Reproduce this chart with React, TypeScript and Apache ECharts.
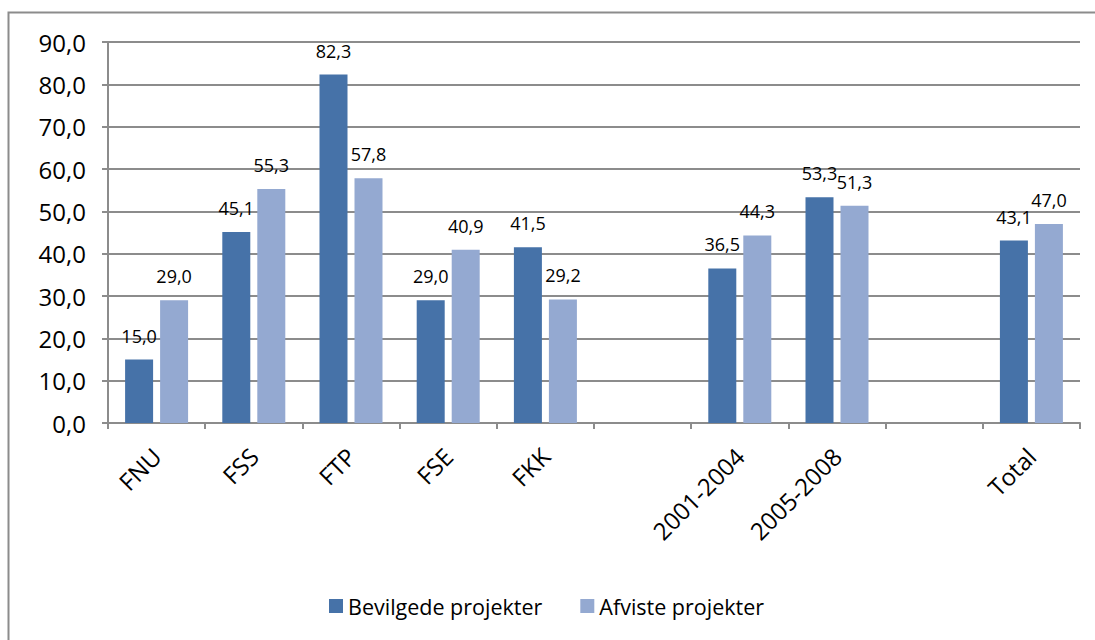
import React, { useEffect, useRef } from "react";
import * as echarts from "echarts";

const categories = ["FNU", "FSS", "FTP", "FSE", "FKK", "", "2001-2004", "2005-2008", "", "Total"];
const bevilgede = [15.0, 45.1, 82.3, 29.0, 41.5, null, 36.5, 53.3, null, 43.1];
const afviste = [29.0, 55.3, 57.8, 40.9, 29.2, null, 44.3, 51.3, null, 47.0];
const seriesNames = ["Bevilgede projekter", "Afviste projekter"];
const colors = ["#4672A8", "#94A9D1"];

const fmt = (v: number) => v.toFixed(1).replace(".", ",");
const FONT = "'Open Sans', 'Noto Sans', sans-serif";

export default function App() {
  const ref = useRef<HTMLDivElement>(null);
  useEffect(() => {
    document.body.style.margin = "0";
    const chart = echarts.init(ref.current!, null, { renderer: "svg" });
    const labelCfg = {
      show: true,
      position: "top" as const,
      distance: 15,
      color: "#000",
      fontSize: 18,
      fontFamily: FONT,
      formatter: (p: any) => fmt(p.value),
    };
    chart.setOption({
      animation: false,
      backgroundColor: "#fff",
      color: colors,
      graphic: [
        {
          type: "rect",
          shape: { x: 8.5, y: 12.5, width: 1200, height: 700 },
          style: { fill: "none", stroke: "#8c8c8c", lineWidth: 2 },
          silent: true,
        },
      ],
      grid: { left: 108, right: 15, top: 42, bottom: 217 },
      legend: {
        top: 590,
        left: 324,
        itemWidth: 14,
        itemHeight: 14,
        itemGap: 38,
        icon: "rect",
        textStyle: { fontSize: 21.5, fontFamily: FONT, color: "#000" },
        data: seriesNames,
      },
      xAxis: {
        type: "category",
        data: categories,
        axisLine: { lineStyle: { color: "#8c8c8c", width: 2 } },
        axisTick: { show: true, alignWithLabel: false, length: 6, lineStyle: { color: "#8c8c8c", width: 2 } },
        axisLabel: {
          rotate: 45,
          interval: 0,
          fontSize: 24,
          fontFamily: FONT,
          color: "#000",
          margin: 29,
        },
      },
      yAxis: {
        type: "value",
        min: 0,
        max: 90,
        interval: 10,
        axisLine: { show: true, lineStyle: { color: "#8c8c8c", width: 2 } },
        axisTick: { show: true, length: 6, lineStyle: { color: "#8c8c8c", width: 2 } },
        splitLine: { lineStyle: { color: "#8c8c8c", width: 2 } },
        axisLabel: {
          formatter: (v: number) => fmt(v),
          fontSize: 24,
          fontFamily: FONT,
          color: "#000",
          margin: 22,
        },
      },
      series: [
        {
          name: seriesNames[0],
          type: "bar",
          data: bevilgede,
          barWidth: 28,
          barGap: "25%",
          label: labelCfg,
        },
        {
          name: seriesNames[1],
          type: "bar",
          data: afviste,
          barWidth: 28,
          label: labelCfg,
        },
      ],
    });
    return () => chart.dispose();
  }, []);
  return <div ref={ref} style={{ width: 1095, height: 640 }} />;
}
